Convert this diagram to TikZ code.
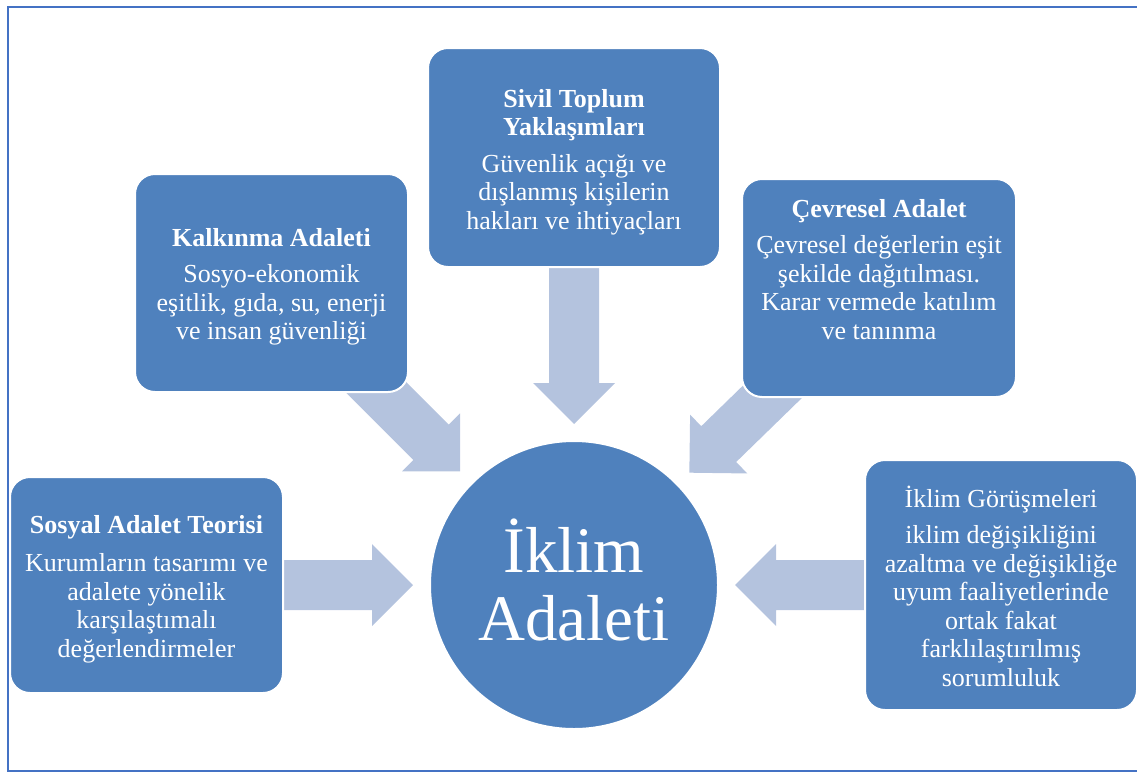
\documentclass[tikz,border=0pt]{standalone}
\usepackage{fontspec}
\setmainfont{Liberation Serif}
\usetikzlibrary{calc,backgrounds}
\definecolor{boxblue}{HTML}{4F81BD}
\definecolor{arrowblue}{HTML}{B4C3DE}
\definecolor{frameblue}{HTML}{4472C4}

% Broad block arrow from #2 (tail) to #3 (tip); #1 names its helper coordinate
\newcommand\fatarrow[3]{%
  \coordinate (#1-b) at ($(#3)!41pt!(#2)$);
  \fill[fat] ($(#2)!25pt!90:(#3)$) -- ($(#1-b)!25pt!-90:(#2)$) -- ($(#1-b)!41pt!-90:(#2)$)
    -- (#3) -- ($(#1-b)!41pt!90:(#2)$) -- ($(#1-b)!25pt!90:(#2)$) -- ($(#2)!25pt!-90:(#3)$) -- cycle;
}

\begin{document}
\begin{tikzpicture}[x=1pt,y=-1pt,
  card/.style={rectangle, rounded corners=20pt, fill=boxblue, draw=white, line width=2pt, inner sep=0pt},
  cardtext/.style={text=white, align=center, font=\fontsize{26}{28.5}\selectfont, inner sep=0pt},
  hub/.style={circle, fill=boxblue, draw=white, line width=2pt, minimum size=288pt, inner sep=0pt},
  hubtext/.style={text=white, font=\fontsize{65}{68}\selectfont, inner sep=0pt, anchor=base},
  fat/.style={fill=arrowblue}]
\useasboundingbox (0,0) rectangle (1137,774);

% central circle
\node[hub] (hub) at (574,585) {};
\node[hubtext] (hub-l1) at (574,572) {İklim};
\node[hubtext] (hub-l2) at (574,640) {Adaleti};

% surrounding cards
\node[card, minimum width=273pt, minimum height=216pt] (sosyal) at (146.5,585) {};
\node[card, minimum width=273pt, minimum height=218pt] (kalk) at (271.5,283) {};
\node[card, minimum width=292pt, minimum height=219pt] (sivil) at (574,157.5) {};
\node[card, minimum width=274pt, minimum height=218pt] (cevre) at (879,288) {};
\node[card, minimum width=272pt, minimum height=250pt] (gorus) at (1001,585) {};

\node[cardtext] (sosyal-t) at ($(sosyal.center)+(0,4)$) {\textbf{Sosyal Adalet Teorisi}\\[10pt]
  Kurumların tasarımı ve\\adalete yönelik\\karşılaştımalı\\değerlendirmeler};
\node[cardtext] (kalk-t) at ($(kalk.center)+(0,4)$) {\textbf{Kalkınma Adaleti}\\[8pt]
  Sosyo-ekonomik\\eşitlik, gıda, su, enerji\\ve insan güvenliği};
\node[cardtext] (sivil-t) at ($(sivil.center)+(0,4.5)$) {\textbf{Sivil Toplum}\\\textbf{Yaklaşımları}\\[8pt]
  Güvenlik açığı ve\\dışlanmış kişilerin\\hakları ve ihtiyaçları};
\node[cardtext] (cevre-t) at ($(cevre.center)+(0,-18.5)$) {\textbf{Çevresel Adalet}\\[8pt]
  Çevresel değerlerin eşit\\şekilde dağıtılması.\\Karar vermede katılım\\ve tanınma};
\node[cardtext] (gorus-t) at ($(gorus.center)+(0,1)$) {İklim Görüşmeleri\\[8pt]
  iklim değişikliğini\\azaltma ve değişikliğe\\uyum faaliyetlerinde\\ortak fakat\\farklılaştırılmış\\sorumluluk};

% arrow tips stop a little outside the circle
\foreach \c in {sosyal,kalk,sivil,cevre,gorus}
  \coordinate (\c-tip) at ($(hub.center)!161pt!(\c.center)$);

\begin{pgfonlayer}{background}
  \draw[frameblue, line width=2pt] (7.5,6.5) rectangle (1150,771);
  \fatarrow{a1}{sosyal.center}{sosyal-tip}
  \fatarrow{a2}{kalk.center}{kalk-tip}
  \fatarrow{a3}{sivil.center}{sivil-tip}
  \fatarrow{a4}{cevre.center}{cevre-tip}
  \fatarrow{a5}{gorus.center}{gorus-tip}
\end{pgfonlayer}
\end{tikzpicture}
\end{document}
